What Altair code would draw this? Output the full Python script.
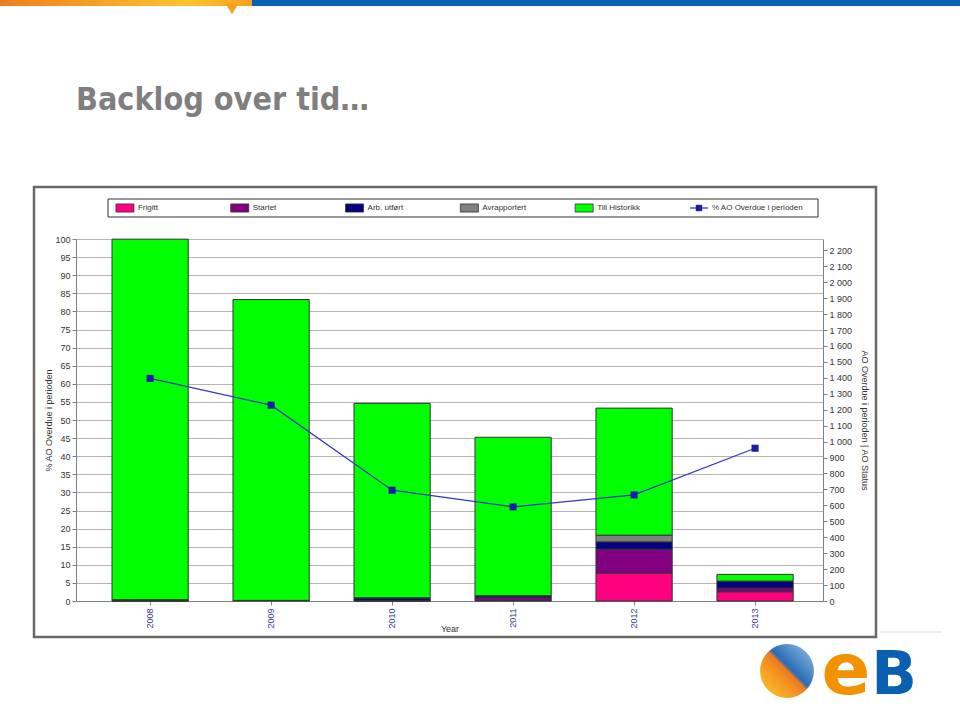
import altair as alt
import pandas as pd

# ---------------- data ----------------
years = ["2008", "2009", "2010", "2011", "2012", "2013"]
frigitt = [0, 4, 0, 3, 176, 58]
startet = [5, 0, 5, 18, 149, 23]
arb_utfort = [3, 0, 15, 12, 46, 41]
avrapportert = [0, 0, 0, 0, 42, 3]
till_historikk = [2262, 1887, 1220, 994, 797, 42]
pct_overdue = [61.5, 54.1, 30.6, 26.0, 29.3, 42.2]

status_names = ["Frigitt", "Startet", "Arb. utført", "Avrapportert", "Till Historikk"]
status_colors = ["#ff0080", "#800080", "#000080", "#808080", "#00ff00"]
line_name = "% AO Overdue i perioden"
right_ticks = list(range(0, 2300, 100))
left_ticks = list(range(0, 105, 5))

series = [frigitt, startet, arb_utfort, avrapportert, till_historikk]
rows = []
for k, (name, vals) in enumerate(zip(status_names, series)):
    for y, v in zip(years, vals):
        rows.append({"year": y, "status": name, "value": v, "order": k})
bars_df = pd.DataFrame(rows)
line_df = pd.DataFrame({"year": years, "pct": pct_overdue})
legend_df = pd.DataFrame({"label": status_names + [line_name],
                          "kind": ["bar"] * 5 + ["line"]})

FONT = "Liberation Sans, Arial, sans-serif"
W, H = 747, 362
one = alt.Data(values=[{}])

xscale = alt.Scale(type="band", paddingInner=0.37, paddingOuter=0.272, align=0.547)

bars = alt.Chart(bars_df).mark_bar(stroke="#333333", strokeWidth=1).encode(
    x=alt.X("year:N", scale=xscale, sort=years,
            axis=alt.Axis(title="Year", labelAngle=-90, labelColor="#3a3a9a",
                          labelFont=FONT, labelFontSize=9, tickColor="#808080",
                          domainColor="#808080", tickSize=4, titleFont=FONT,
                          titleFontSize=9, titleFontWeight="normal",
                          titleColor="#333333", titleY=30,
                          titleBaseline="alphabetic", labelPadding=3)),
    y=alt.Y("value:Q", stack="zero",
            scale=alt.Scale(domain=[0, 2271], nice=False),
            axis=alt.Axis(orient="right", values=right_ticks, grid=False,
                          labelExpr="replace(format(datum.value, ','), ',', ' ')",
                          title="AO Overdue i perioden | AO Status",
                          titleAngle=90, titleFont=FONT, titleFontSize=9,
                          titleFontWeight="normal", titleColor="#333333",
                          titlePadding=8, labelFont=FONT, labelFontSize=9,
                          labelColor="#333333", tickColor="#808080",
                          domainColor="#808080", tickSize=4)),
    color=alt.Color("status:N", scale=alt.Scale(domain=status_names, range=status_colors),
                    legend=None),
    order=alt.Order("order:Q", sort="ascending"),
)

left_axis = alt.Axis(orient="left", values=left_ticks, grid=True,
                     gridColor="#b4b4b4", gridWidth=1, labelOverlap=False,
                     title="% AO Overdue i perioden", titleFont=FONT,
                     titleFontSize=9, titleFontWeight="normal",
                     titleColor="#333333", titlePadding=1,
                     labelFont=FONT, labelFontSize=9, labelColor="#333333",
                     tickColor="#808080", domainColor="#808080", tickSize=4)
line = alt.Chart(line_df).mark_line(color="#3535c8", strokeWidth=1.3).encode(
    x=alt.X("year:N", scale=xscale, sort=years),
    y=alt.Y("pct:Q", scale=alt.Scale(domain=[0, 100], nice=False), axis=left_axis),
)
points = alt.Chart(line_df).mark_point(shape="square", filled=True, size=50,
                                       color="#1c1ca8", opacity=1).encode(
    x=alt.X("year:N", scale=xscale, sort=years),
    y=alt.Y("pct:Q", scale=alt.Scale(domain=[0, 100], nice=False), axis=left_axis),
)

main = alt.layer(bars, alt.layer(line, points)).resolve_scale(y="independent")

# ---------------- legend (manual, in a box above the plot) ----------------
lx = alt.X("label:N", sort=status_names + [line_name],
           scale=alt.Scale(type="point", domain=status_names + [line_name],
                           padding=0.7535, align=0.283), axis=None)
LEG_Y = -31
leg_box = alt.Chart(one).mark_rect(fill=None, stroke="#333333", strokeWidth=1).encode(
    x=alt.value(32), x2=alt.value(742), y=alt.value(-40), y2=alt.value(-22))
leg_sym = alt.Chart(legend_df).transform_filter("datum.kind == 'bar'").mark_point(
    shape="M-1,-0.45H1V0.45H-1Z", filled=True, size=324, stroke="#333333",
    strokeWidth=0.8, opacity=1).encode(
    x=lx, y=alt.value(LEG_Y),
    fill=alt.Fill("label:N", scale=alt.Scale(domain=status_names, range=status_colors),
                  legend=None))
leg_line = alt.Chart(legend_df).transform_filter("datum.kind == 'line'").mark_point(
    shape="M-1,0H1", size=324, stroke="#3535c8", strokeWidth=1.3, filled=False,
    opacity=1).encode(x=lx, y=alt.value(LEG_Y))
leg_sq = alt.Chart(legend_df).transform_filter("datum.kind == 'line'").mark_point(
    shape="square", size=40, filled=True, color="#1c1ca8", opacity=1).encode(
    x=lx, y=alt.value(LEG_Y))
leg_txt = alt.Chart(legend_df).mark_text(align="left", baseline="middle", dx=13,
                                         font=FONT, fontSize=8, color="#333333").encode(
    x=lx, y=alt.value(LEG_Y), text="label:N")
legend = alt.layer(leg_sym, leg_line, leg_sq, leg_txt)

# ---------------- decorations ----------------
frame = alt.Chart(one).mark_rect(fill=None, stroke="#6a6a6a", strokeWidth=2.5).encode(
    x=alt.value(-42), x2=alt.value(800), y=alt.value(-52), y2=alt.value(398))
title = alt.Chart(one).mark_text(text="Backlog over tid…", align="left",
                                 baseline="alphabetic",
                                 font="Liberation Sans Narrow, DejaVu Sans Condensed, Open Sans",
                                 fontSize=32, fontWeight="bold", color="#7f7f7f").encode(
    x=alt.value(0), y=alt.value(-129))
top_orange = alt.Chart(one).mark_rect(
    fill=alt.Gradient(gradient="linear", x1=0, x2=1, y1=0, y2=0,
                      stops=[alt.GradientStop(offset=0, color="#ef7d1f"),
                             alt.GradientStop(offset=0.75, color="#fcc42c"),
                             alt.GradientStop(offset=1, color="#f6a01f")])).encode(
    x=alt.value(-76), x2=alt.value(176), y=alt.value(-239), y2=alt.value(-233))
top_tri = alt.Chart(one).mark_point(shape="triangle-down", filled=True, size=160,
                                    color="#f6a01f", opacity=1).encode(
    x=alt.value(156), y=alt.value(-230))
top_blue = alt.Chart(one).mark_rect(fill="#0a63b2").encode(
    x=alt.value(176), x2=alt.value(884), y=alt.value(-239), y2=alt.value(-233))
side_rule = alt.Chart(one).mark_rule(color="#dddddd", strokeWidth=1).encode(
    x=alt.value(804), x2=alt.value(866), y=alt.value(393))
logo_circle = alt.Chart(one).mark_point(
    shape="circle", filled=True, size=2900, opacity=1,
    fill=alt.Gradient(gradient="linear", x1=0, x2=1, y1=1, y2=0,
                      stops=[alt.GradientStop(offset=0, color="#fcd22c"),
                             alt.GradientStop(offset=0.5, color="#ef7d1f"),
                             alt.GradientStop(offset=0.55, color="#2a6db5"),
                             alt.GradientStop(offset=1, color="#9cc3e6")])).encode(
    x=alt.value(711), y=alt.value(432))
logo_e = alt.Chart(one).mark_text(text="e", font="DejaVu Sans", fontSize=72,
                                  fontWeight="bold", color="#f39200",
                                  baseline="alphabetic", align="center").encode(
    x=alt.value(770), y=alt.value(455))
logo_b = alt.Chart(one).mark_text(text="B", font="DejaVu Sans", fontSize=60,
                                  fontWeight="bold", color="#0a5fb0",
                                  baseline="alphabetic", align="center").encode(
    x=alt.value(818), y=alt.value(455))

chart = alt.layer(
    frame, top_orange, top_blue, top_tri, title, side_rule,
    logo_circle, logo_e, logo_b, leg_box, main, legend
).resolve_scale(x="independent", y="independent", fill="independent").properties(
    width=W, height=H,
    autosize=alt.AutoSizeParams(type="none"),
    padding={"left": 76, "top": 239, "right": 137, "bottom": 111},
    background="white",
).configure_view(stroke=None)

chart.save("out.html", embed_options={"renderer": "svg", "actions": False})
